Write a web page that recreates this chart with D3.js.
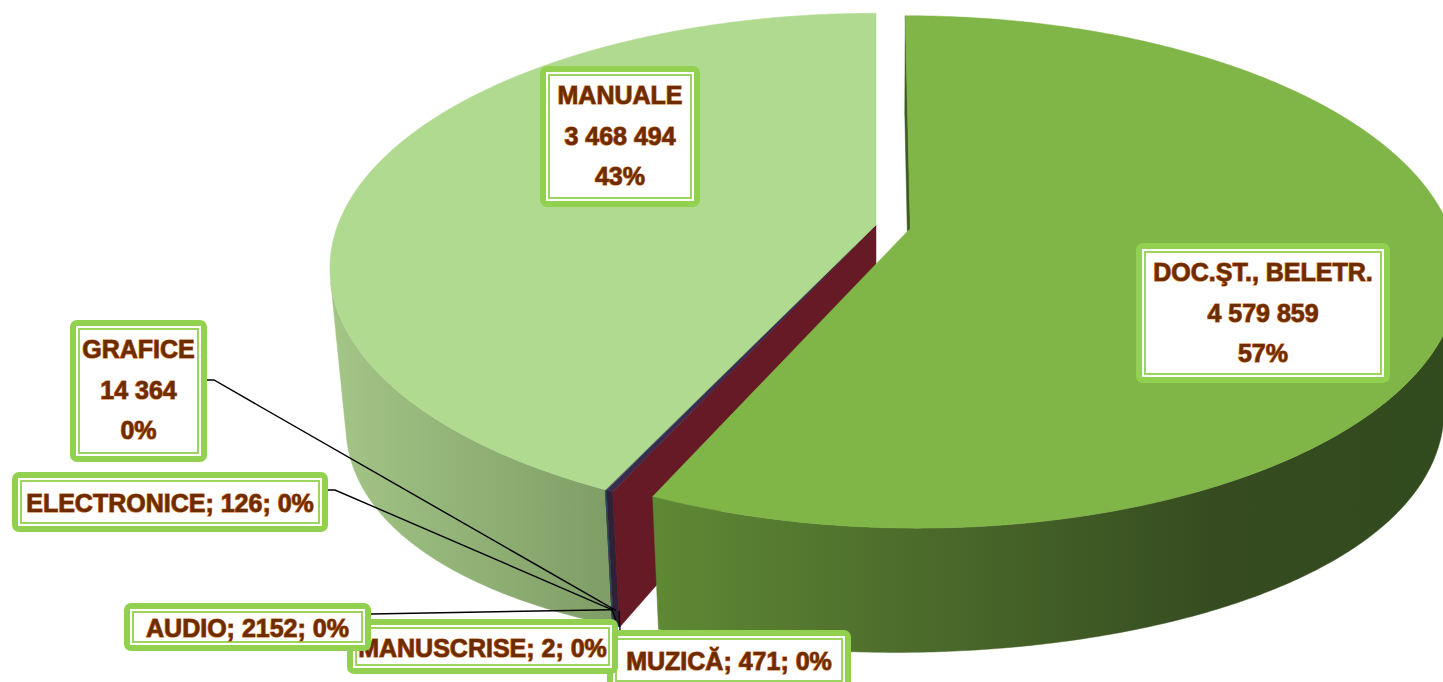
<!DOCTYPE html>
<html>
<head>
<meta charset="utf-8">
<script src="https://cdn.jsdelivr.net/npm/d3@7"></script>
<style>
  body { margin: 0; background: #fff; }
  svg { display: block; }
</style>
</head>
<body>
<div id="chart"></div>
<script>
// values (slice order = drawing order, clockwise from 12 o'clock)
var categories = ["DOC.ŞT., BELETR.", "MUZICĂ", "GRAFICE", "AUDIO", "ELECTRONICE", "MANUSCRISE", "MANUALE"];
var values = [4579859, 471, 14364, 2152, 126, 2, 3468494];
var exploded = ["DOC.ŞT., BELETR."];

// colours per slice: top face, side (rim), radial wall
var topColors  = ["#80b547", "#7d2230", "#3a2c4e", "#2f6f80", "#4d3a66", "#7a5a2a", "#b1da91"];
var wallColors = ["#3d5c22", "#651a25", "#2e2239", "#235563", "#3a2c4e", "#5c431f", "#8fb273"];
var sideStops = {
  "DOC.ŞT., BELETR.": [[0, "#5e8834"], [0.33, "#4b6b2b"], [0.7, "#364c20"], [1, "#314a1e"]],
  "MANUALE": [[0, "#a2c485"], [1, "#7f9e67"]]
};

// where Excel put each data label (outer box) and where its leader line starts
var labelLayout = {
  "DOC.ŞT., BELETR.": {x: 1136, y: 243, w: 254, h: 140, multi: true},
  "MANUALE":          {x: 540,  y: 66,  w: 160, h: 141, multi: true},
  "GRAFICE":          {x: 70,   y: 320, w: 137, h: 142, multi: true, lead: [[207, 380], [214, 380]]},
  "ELECTRONICE":      {x: 12,   y: 472, w: 316, h: 60, lead: [[328, 490], [335, 490]]},
  "MUZICĂ":           {x: 607,  y: 630, w: 244, h: 60, lead: [[620, 630]]},
  "MANUSCRISE":       {x: 347,  y: 619, w: 271, h: 55, lead: [[616, 620]]},
  "AUDIO":            {x: 124,  y: 603, w: 247, h: 48, lead: [[371, 614]]}
};
var labelOrder = ["DOC.ŞT., BELETR.", "MANUALE", "GRAFICE", "ELECTRONICE", "MUZICĂ", "MANUSCRISE", "AUDIO"];

var W = 1443, H = 682;
var svg = d3.select("#chart").append("svg")
    .attr("width", W)
    .attr("height", H);
var defs = svg.append("defs");

var total = d3.sum(values);
var data = categories.map(function(c, i) {
  return {name: c, value: values[i], index: i};
});
var arcs = d3.pie().sort(null).value(function(d) { return d.value; })(data);

// perspective camera, pie radius = 1; the side depth varies a little with X like Excel's render
var cam = {cx: 876, cy: 225, F: 2820, D: 5.24, tilt: 27.4 * Math.PI / 180, h: 0.235, skew: 0.12, bulge: 0.3, explode: 0.065};
var cs = Math.cos(cam.tilt), sn = Math.sin(cam.tilt);
var camPos = [0, cam.D * sn, cam.D * cs];

function project(p) {
  var d = cam.D - p[2] * cs - p[1] * sn;
  return [cam.cx + cam.F * p[0] / d, cam.cy - cam.F * (p[1] * cs - p[2] * sn) / d];
}
function bottom(X) { return -cam.h * (1 - cam.skew * X + cam.bulge * X * X); }
// point on the top (level 0) or bottom (level 1) of the slice
function rim(a, off, level, r) {
  if (r === undefined) r = 1;
  var X = off[0] + r * Math.sin(a), Z = off[1] - r * Math.cos(a);
  return [X, level * bottom(X), Z];
}
function dist(p) {
  var dx = p[0] - camPos[0], dy = p[1] - camPos[1], dz = p[2] - camPos[2];
  return Math.sqrt(dx * dx + dy * dy + dz * dz);
}
function facing(n, p) {
  return n[0] * (camPos[0] - p[0]) + n[1] * (camPos[1] - p[1]) + n[2] * (camPos[2] - p[2]) > 1e-6;
}

arcs.forEach(function(a) {
  var e = exploded.indexOf(a.data.name) >= 0 ? cam.explode : 0;
  var mid = (a.startAngle + a.endAngle) / 2;
  a.off = [e * Math.sin(mid), -e * Math.cos(mid)];
  a.mid = mid;
});

var line = d3.line();
var faces = [];
var step = 1 * Math.PI / 180;

arcs.forEach(function(a, i) {
  var name = a.data.name;
  var sideFill = wallColors[i];

  // visible runs of the outer side
  var n = Math.max(1, Math.ceil((a.endAngle - a.startAngle) / step));
  var runs = [], cur = null;
  for (var k = 0; k < n; k++) {
    var a0 = a.startAngle + (a.endAngle - a.startAngle) * k / n;
    var a1 = a.startAngle + (a.endAngle - a.startAngle) * (k + 1) / n;
    var am = (a0 + a1) / 2;
    var pm = rim(am, a.off, 0.5);
    if (facing([Math.sin(am), 0, -Math.cos(am)], pm)) {
      if (!cur) { cur = [a0, a1]; runs.push(cur); } else cur[1] = a1;
    } else cur = null;
  }

  if (sideStops[name] && runs.length) {
    var xs = [];
    runs.forEach(function(r) {
      for (var t = r[0]; t <= r[1]; t += step) xs.push(project(rim(t, a.off, 0.5))[0]);
    });
    var gid = "side" + i;
    var g = defs.append("linearGradient").attr("id", gid)
        .attr("gradientUnits", "userSpaceOnUse")
        .attr("x1", d3.min(xs)).attr("x2", d3.max(xs)).attr("y1", 0).attr("y2", 0);
    sideStops[name].forEach(function(s) {
      g.append("stop").attr("offset", s[0]).attr("stop-color", s[1]);
    });
    sideFill = "url(#" + gid + ")";
  }

  runs.forEach(function(r) {
    var m = Math.max(2, Math.ceil((r[1] - r[0]) / (step / 2)));
    var pts = [], j;
    for (j = 0; j <= m; j++) pts.push(project(rim(r[0] + (r[1] - r[0]) * j / m, a.off, 0)));
    for (j = m; j >= 0; j--) pts.push(project(rim(r[0] + (r[1] - r[0]) * j / m, a.off, 1)));
    faces.push({pts: pts, fill: sideFill, depth: dist(rim((r[0] + r[1]) / 2, a.off, 0.5))});
  });

  // radial walls, only where the neighbour is offset differently
  var prev = arcs[(i - 1 + arcs.length) % arcs.length], next = arcs[(i + 1) % arcs.length];
  [[a.startAngle, prev, -1], [a.endAngle, next, 1]].forEach(function(w) {
    var nb = w[1];
    if (Math.abs(nb.off[0] - a.off[0]) < 1e-9 && Math.abs(nb.off[1] - a.off[1]) < 1e-9) return;
    var t = w[0];
    var nrm = [w[2] * Math.cos(t), 0, w[2] * Math.sin(t)];
    var c = rim(t, a.off, 0.5, 0.5);
    if (!facing(nrm, c)) return;
    var pts = [
      project([a.off[0], 0, a.off[1]]),
      project(rim(t, a.off, 0)),
      project(rim(t, a.off, 1)),
      project([a.off[0], bottom(a.off[0]), a.off[1]])
    ];
    faces.push({pts: pts, fill: wallColors[i], depth: dist(c)});
  });
});

faces.sort(function(p, q) { return q.depth - p.depth; });

var pieG = svg.append("g");
pieG.selectAll("path.face")
  .data(faces)
  .enter()
  .append("path")
    .attr("class", "face")
    .attr("d", function(f) { return line(f.pts) + "Z"; })
    .attr("fill", function(f) { return f.fill; })
    .attr("stroke", function(f) { return f.fill; })
    .attr("stroke-width", 0.5);

// top faces
pieG.selectAll("path.top")
  .data(arcs)
  .enter()
  .append("path")
    .attr("class", "top")
    .attr("d", function(a) {
      var pts = [project([a.off[0], 0, a.off[1]])];
      var n = Math.max(2, Math.ceil((a.endAngle - a.startAngle) / (step / 2)));
      for (var k = 0; k <= n; k++) {
        pts.push(project(rim(a.startAngle + (a.endAngle - a.startAngle) * k / n, a.off, 0)));
      }
      return line(pts) + "Z";
    })
    .attr("fill", function(a, i) { return topColors[i]; })
    .attr("stroke", function(a, i) { return topColors[i]; })
    .attr("stroke-width", 0.5);

// labels
function fmtNum(v) {
  return v >= 10000 ? d3.format(",")(v).replace(/,/g, " ") : String(v);
}
function pct(v) { return Math.round(v / total * 100) + "%"; }

var byName = {};
arcs.forEach(function(a) { byName[a.data.name] = a; });

// leader lines first, boxes drawn over their ends
labelOrder.forEach(function(name) {
  var L = labelLayout[name];
  if (!L.lead) return;
  var a = byName[name];
  var anchor = project(rim(a.mid, a.off, 0.88));
  svg.append("path")
    .attr("d", line(L.lead.concat([anchor])))
    .attr("fill", "none")
    .attr("stroke", "#000")
    .attr("stroke-width", 1.4);
});

labelOrder.forEach(function(name) {
  var L = labelLayout[name];
  var a = byName[name];
  var g = svg.append("g").attr("class", "label");
  g.append("rect")
    .attr("x", L.x).attr("y", L.y).attr("width", L.w).attr("height", L.h)
    .attr("rx", 7)
    .attr("fill", "#92d050");
  g.append("rect")
    .attr("x", L.x + 6).attr("y", L.y + 6).attr("width", L.w - 12).attr("height", L.h - 12)
    .attr("fill", "#fff");
  g.append("rect")
    .attr("x", L.x + 9).attr("y", L.y + 9).attr("width", L.w - 18).attr("height", L.h - 18)
    .attr("fill", "none")
    .attr("stroke", "#92d050")
    .attr("stroke-width", 1.8);

  var lines = L.multi
    ? [name, fmtNum(a.data.value), pct(a.data.value)]
    : [name + "; " + fmtNum(a.data.value) + "; " + pct(a.data.value)];
  var cx = L.x + L.w / 2;
  g.selectAll("text")
    .data(lines)
    .enter()
    .append("text")
      .attr("x", cx)
      .attr("y", function(d, i) { return L.multi ? L.y + 38 + i * 40.5 : L.y + L.h / 2 + 10; })
      .attr("text-anchor", "middle")
      .attr("font-family", "'Liberation Sans', Arial, sans-serif")
      .attr("font-weight", "bold")
      .attr("font-size", 25)
      .attr("fill", "#6b2c00")
      .attr("stroke", "#c8681c")
      .attr("stroke-width", 1.2)
      .attr("paint-order", "stroke")
      .text(function(d) { return d; });
});
</script>
</body>
</html>
